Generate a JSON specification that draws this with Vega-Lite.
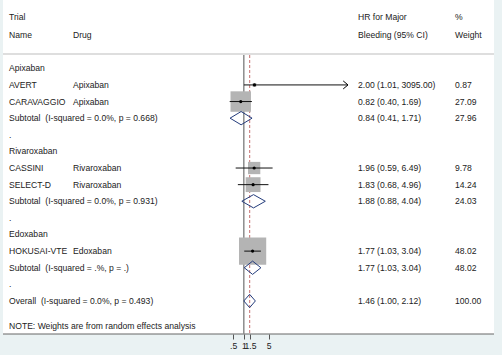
{
  "$schema": "https://vega.github.io/schema/vega-lite/v6.json",
  "autosize": {"type": "pad"},
  "padding": {"left": 2, "top": 0, "right": 9, "bottom": 12},
  "background": "#eaf2f3",
  "bounds": "flush",
  "spacing": 0,
  "config": {
    "view": {"stroke": null, "fill": "white"},
    "text": {"font": "Liberation Sans", "fontSize": 8.6, "color": "#222"},
    "axis": {"labelFont": "Liberation Sans", "labelFontSize": 8.6, "labelColor": "#222", "tickColor": "#555", "domain": false, "grid": false}
  },
  "datasets": {
    "labels": [
      {"row": -3.08, "col": "name", "text": "Trial"},
      {"row": -3.08, "col": "hr", "text": "HR for Major"},
      {"row": -3.08, "col": "wt", "text": "%"},
      {"row": -2.0, "col": "name", "text": "Name"},
      {"row": -2.0, "col": "drug", "text": "Drug"},
      {"row": -2.0, "col": "hr", "text": "Bleeding (95% CI)"},
      {"row": -2.0, "col": "wt", "text": "Weight"},
      {"row": 0, "col": "name", "text": "Apixaban"},
      {"row": 1, "col": "name", "text": "AVERT"},
      {"row": 1, "col": "drug", "text": "Apixaban"},
      {"row": 1, "col": "hr", "text": "2.00 (1.01, 3095.00)"},
      {"row": 1, "col": "wt", "text": "0.87"},
      {"row": 2, "col": "name", "text": "CARAVAGGIO"},
      {"row": 2, "col": "drug", "text": "Apixaban"},
      {"row": 2, "col": "hr", "text": "0.82 (0.40, 1.69)"},
      {"row": 2, "col": "wt", "text": "27.09"},
      {"row": 3, "col": "name", "text": "Subtotal\u00a0 (I-squared = 0.0%, p = 0.668)"},
      {"row": 3, "col": "hr", "text": "0.84 (0.41, 1.71)"},
      {"row": 3, "col": "wt", "text": "27.96"},
      {"row": 4, "col": "name", "text": "."},
      {"row": 5, "col": "name", "text": "Rivaroxaban"},
      {"row": 6, "col": "name", "text": "CASSINI"},
      {"row": 6, "col": "drug", "text": "Rivaroxaban"},
      {"row": 6, "col": "hr", "text": "1.96 (0.59, 6.49)"},
      {"row": 6, "col": "wt", "text": "9.78"},
      {"row": 7, "col": "name", "text": "SELECT-D"},
      {"row": 7, "col": "drug", "text": "Rivaroxaban"},
      {"row": 7, "col": "hr", "text": "1.83 (0.68, 4.96)"},
      {"row": 7, "col": "wt", "text": "14.24"},
      {"row": 8, "col": "name", "text": "Subtotal\u00a0 (I-squared = 0.0%, p = 0.931)"},
      {"row": 8, "col": "hr", "text": "1.88 (0.88, 4.04)"},
      {"row": 8, "col": "wt", "text": "24.03"},
      {"row": 9, "col": "name", "text": "."},
      {"row": 10, "col": "name", "text": "Edoxaban"},
      {"row": 11, "col": "name", "text": "HOKUSAI-VTE"},
      {"row": 11, "col": "drug", "text": "Edoxaban"},
      {"row": 11, "col": "hr", "text": "1.77 (1.03, 3.04)"},
      {"row": 11, "col": "wt", "text": "48.02"},
      {"row": 12, "col": "name", "text": "Subtotal\u00a0 (I-squared = .%, p = .)"},
      {"row": 12, "col": "hr", "text": "1.77 (1.03, 3.04)"},
      {"row": 12, "col": "wt", "text": "48.02"},
      {"row": 13, "col": "name", "text": "."},
      {"row": 14, "col": "name", "text": "Overall\u00a0 (I-squared = 0.0%, p = 0.493)"},
      {"row": 14, "col": "hr", "text": "1.46 (1.00, 2.12)"},
      {"row": 14, "col": "wt", "text": "100.00"},
      {"row": 15.5, "col": "name", "text": "NOTE: Weights are from random effects analysis"}
    ],
    "studies": [
      {"name": "AVERT", "row": 1, "hr": 2.00, "lo": 1.01, "hi": 3095.00, "wt": 0.87},
      {"name": "CARAVAGGIO", "row": 2, "hr": 0.82, "lo": 0.40, "hi": 1.69, "wt": 27.09},
      {"name": "CASSINI", "row": 6, "hr": 1.96, "lo": 0.59, "hi": 6.49, "wt": 9.78},
      {"name": "SELECT-D", "row": 7, "hr": 1.83, "lo": 0.68, "hi": 4.96, "wt": 14.24},
      {"name": "HOKUSAI-VTE", "row": 11, "hr": 1.77, "lo": 1.03, "hi": 3.04, "wt": 48.02}
    ],
    "diamonds": [
      {"grp": "Apixaban", "ord": 0, "hr": 0.41, "row": 3},
      {"grp": "Apixaban", "ord": 1, "hr": 0.84, "row": 2.6},
      {"grp": "Apixaban", "ord": 2, "hr": 1.71, "row": 3},
      {"grp": "Apixaban", "ord": 3, "hr": 0.84, "row": 3.4},
      {"grp": "Apixaban", "ord": 4, "hr": 0.41, "row": 3},
      {"grp": "Rivaroxaban", "ord": 0, "hr": 0.88, "row": 8},
      {"grp": "Rivaroxaban", "ord": 1, "hr": 1.88, "row": 7.6},
      {"grp": "Rivaroxaban", "ord": 2, "hr": 4.04, "row": 8},
      {"grp": "Rivaroxaban", "ord": 3, "hr": 1.88, "row": 8.4},
      {"grp": "Rivaroxaban", "ord": 4, "hr": 0.88, "row": 8},
      {"grp": "Edoxaban", "ord": 0, "hr": 1.03, "row": 12},
      {"grp": "Edoxaban", "ord": 1, "hr": 1.77, "row": 11.6},
      {"grp": "Edoxaban", "ord": 2, "hr": 3.04, "row": 12},
      {"grp": "Edoxaban", "ord": 3, "hr": 1.77, "row": 12.4},
      {"grp": "Edoxaban", "ord": 4, "hr": 1.03, "row": 12},
      {"grp": "Overall", "ord": 0, "hr": 1.00, "row": 14},
      {"grp": "Overall", "ord": 1, "hr": 1.46, "row": 13.6},
      {"grp": "Overall", "ord": 2, "hr": 2.12, "row": 14},
      {"grp": "Overall", "ord": 3, "hr": 1.46, "row": 14.4},
      {"grp": "Overall", "ord": 4, "hr": 1.00, "row": 14}
    ]
  },
  "hconcat": [
    {
      "width": 208, "height": 334,
      "layer": [
        {"data": {"values": [{}]}, "mark": {"type": "rule", "color": "#dedede", "strokeWidth": 2},
         "encoding": {"y": {"datum": -0.86, "type": "quantitative", "scale": {"domain": [-4.11, 15.987], "reverse": true, "nice": false, "zero": false}, "axis": null}}},
        {"data": {"values": [{}]}, "mark": {"type": "rule", "color": "#666", "strokeWidth": 1},
         "encoding": {"y": {"datum": 15.987, "type": "quantitative", "axis": null}}},
        {"data": {"name": "labels"}, "transform": [{"filter": "datum.col == 'name' || datum.col == 'drug'"}],
         "mark": {"type": "text", "align": "left", "baseline": "middle"},
         "encoding": {
           "x": {"field": "col", "type": "nominal", "bandPosition": 0, "axis": null,
                 "scale": {"type": "band", "domain": ["name", "drug"], "paddingInner": 0, "paddingOuter": 0.625, "align": 0.075}},
           "y": {"field": "row", "type": "quantitative", "axis": null},
           "text": {"field": "text"}
         }}
      ]
    },
    {
      "width": 137, "height": 334,
      "layer": [
        {"data": {"values": [{}]}, "mark": {"type": "rule", "color": "#dedede", "strokeWidth": 2},
         "encoding": {"y": {"datum": -0.86, "type": "quantitative", "scale": {"domain": [-4.11, 15.987], "reverse": true, "nice": false, "zero": false}, "axis": null}}},
        {"data": {"values": [{}]}, "mark": {"type": "rule", "color": "#666", "strokeWidth": 1},
         "encoding": {"y": {"datum": 15.987, "type": "quantitative", "axis": null}}},
        {"data": {"values": [{}]}, "mark": {"type": "rule", "color": "#8c8c8c", "strokeWidth": 1.5},
         "encoding": {
           "x": {"datum": 1, "type": "quantitative",
                 "scale": {"type": "log", "domain": [0.11886, 868.2], "clamp": true, "nice": false, "zero": false},
                 "axis": {"values": [0.5, 1, 1.5, 5], "title": null, "tickSize": 5, "labelPadding": 2, "labelOverlap": false,
                          "labelExpr": "datum.value < 1 ? '.5' : format(datum.value, '~g')"}},
           "y": {"datum": -0.8, "type": "quantitative"},
           "y2": {"datum": 15.987}
         }},
        {"data": {"values": [{}]}, "mark": {"type": "rule", "color": "#d08888", "strokeWidth": 1.2, "strokeDash": [3, 2]},
         "encoding": {
           "x": {"datum": 1.46, "type": "quantitative"},
           "y": {"datum": -0.8, "type": "quantitative"},
           "y2": {"datum": 15.987}
         }},
        {"data": {"name": "studies"},
         "mark": {"type": "point", "shape": "square", "filled": true, "color": "#b4b4b4", "opacity": 1},
         "encoding": {
           "x": {"field": "hr", "type": "quantitative"},
           "y": {"field": "row", "type": "quantitative"},
           "size": {"field": "wt", "type": "quantitative", "legend": null,
                    "scale": {"type": "linear", "domain": [0, 48.02], "range": [0, 742], "zero": true}}
         }},
        {"data": {"name": "studies"},
         "mark": {"type": "rule", "color": "#111", "strokeWidth": 1},
         "encoding": {
           "x": {"field": "lo", "type": "quantitative"},
           "x2": {"field": "hi"},
           "y": {"field": "row", "type": "quantitative"}
         }},
        {"data": {"name": "studies"},
         "mark": {"type": "point", "shape": "circle", "filled": true, "color": "#000", "size": 10, "opacity": 1},
         "encoding": {
           "x": {"field": "hr", "type": "quantitative"},
           "y": {"field": "row", "type": "quantitative"}
         }},
        {"data": {"name": "studies"}, "transform": [{"filter": "datum.hi > 868"}],
         "mark": {"type": "point", "shape": "M-1.2,-1L0,0L-1.2,1", "filled": false, "stroke": "#000", "strokeWidth": 1, "size": 64, "opacity": 1},
         "encoding": {
           "x": {"field": "hi", "type": "quantitative"},
           "y": {"field": "row", "type": "quantitative"}
         }},
        {"data": {"name": "diamonds"},
         "mark": {"type": "line", "color": "#243c7c", "strokeWidth": 1},
         "encoding": {
           "x": {"field": "hr", "type": "quantitative"},
           "y": {"field": "row", "type": "quantitative"},
           "detail": {"field": "grp"},
           "order": {"field": "ord", "type": "quantitative"}
         }}
      ]
    },
    {
      "width": 107, "height": 334,
      "layer": [
        {"data": {"values": [{}]}, "mark": {"type": "rule", "color": "#dedede", "strokeWidth": 2},
         "encoding": {"y": {"datum": -0.86, "type": "quantitative", "scale": {"domain": [-4.11, 15.987], "reverse": true, "nice": false, "zero": false}, "axis": null}}},
        {"data": {"values": [{}]}, "mark": {"type": "rule", "color": "#666", "strokeWidth": 1},
         "encoding": {"y": {"datum": 15.987, "type": "quantitative", "axis": null}}},
        {"data": {"name": "labels"}, "transform": [{"filter": "datum.col == 'hr'"}],
         "mark": {"type": "text", "align": "left", "baseline": "middle"},
         "encoding": {
           "x": {"field": "col", "type": "nominal", "bandPosition": 0, "axis": null,
                 "scale": {"type": "band", "domain": ["hr"], "paddingInner": 0, "paddingOuter": 0.5, "align": 0.187}},
           "y": {"field": "row", "type": "quantitative", "axis": null},
           "text": {"field": "text"}
         }}
      ]
    },
    {
      "width": 39, "height": 334,
      "layer": [
        {"data": {"values": [{}]}, "mark": {"type": "rule", "color": "#dedede", "strokeWidth": 2},
         "encoding": {"y": {"datum": -0.86, "type": "quantitative", "scale": {"domain": [-4.11, 15.987], "reverse": true, "nice": false, "zero": false}, "axis": null}}},
        {"data": {"values": [{}]}, "mark": {"type": "rule", "color": "#666", "strokeWidth": 1},
         "encoding": {"y": {"datum": 15.987, "type": "quantitative", "axis": null}}},
        {"data": {"name": "labels"}, "transform": [{"filter": "datum.col == 'wt'"}],
         "mark": {"type": "text", "align": "left", "baseline": "middle"},
         "encoding": {
           "x": {"field": "col", "type": "nominal", "bandPosition": 0, "axis": null,
                 "scale": {"type": "band", "domain": ["wt"], "paddingInner": 0, "paddingOuter": 0, "align": 0}},
           "y": {"field": "row", "type": "quantitative", "axis": null},
           "text": {"field": "text"}
         }}
      ]
    }
  ]
}
